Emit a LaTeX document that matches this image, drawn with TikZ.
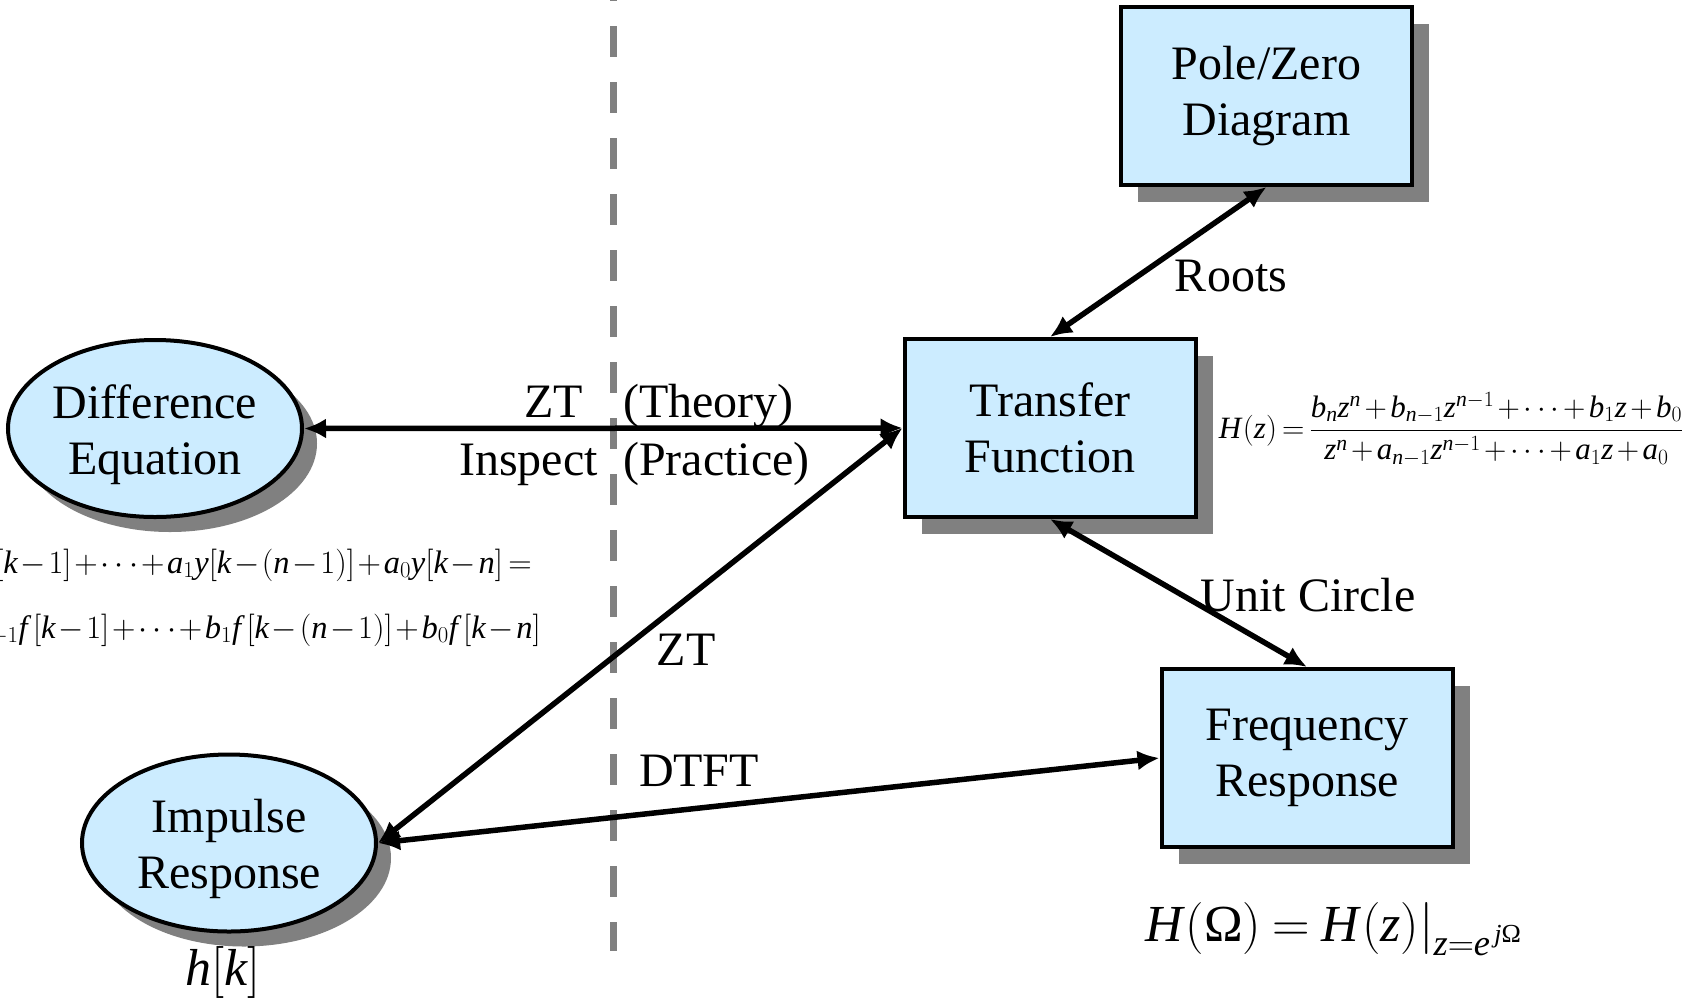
\documentclass[tikz,border=0pt]{standalone}
\usepackage{fix-cm}
\usepackage{amsmath}
\usepackage{fontspec}
\setmainfont{Liberation Serif}
\usetikzlibrary{shapes.geometric,arrows.meta,shadows}
\definecolor{boxfill}{RGB}{204,236,255}
\definecolor{shadowgray}{RGB}{128,128,128}
\newcommand{\mitv}[1]{\mathit{#1}}
\begin{document}
\begin{tikzpicture}[x=1pt,y=-1pt,
  every node/.style={font=\fontsize{48}{56}\selectfont, inner sep=0pt},
  blockbox/.style={draw=black, line width=4pt, fill=boxfill, minimum width=291pt, minimum height=178pt, align=center,
    drop shadow={shadow xshift=17pt, shadow yshift=-17pt, fill=shadowgray, opacity=1}},
  blockell/.style={ellipse, draw=black, line width=4pt, fill=boxfill, minimum width=294pt, minimum height=177pt,
    drop shadow={shadow xshift=15pt, shadow yshift=-15pt, fill=shadowgray, opacity=1}},
  elltext/.style={align=center},
  conn/.style={line width=5.5pt, {Latex[length=22pt,width=20pt]}-{Latex[length=22pt,width=20pt]}},
  divider/.style={draw=shadowgray, line width=7pt, dash pattern=on 31pt off 25pt, dash phase=30pt},
  smallmath/.style={font=\fontsize{32.5}{38}\selectfont},
]
\useasboundingbox (0,0) rectangle (1695,997);
\fill[white] (0,0) rectangle (1695,997);
\clip (0,0) rectangle (1695,997);

% divider
\coordinate (dtop) at (613,0);
\coordinate (dbot) at (613,951);
\draw[divider] (dtop) -- (dbot);

% blocks
\node[blockbox] (pz) at (1266.5,96) {Pole/Zero\\Diagram};
\node[blockbox] (tf) at (1050,428) {Transfer\\Function};
\node[blockbox] (fr) at (1307,758) {Frequency\\Response};
\node[blockell] (de) at (155,428.5) {};
\node[elltext] (detext) at (155,434.5) {Difference\\Equation};
\node[blockell] (ir) at (229,843) {};
\node[elltext] (irtext) at (229,849) {Impulse\\Response};

% connectors
\draw[conn] (de.east) -- (tf.west);
\draw[conn] (ir.east) -- (tf.west);
\draw[conn] (ir.east) -- (fr.west);
\draw[conn] (tf.north) -- (pz.south);
\draw[conn] (tf.south) -- (fr.north);

% labels
\node[anchor=base east] (lzt) at (583,417) {ZT};
\node[anchor=base west] (lth) at (623,417) {(Theory)};
\node[anchor=base east] (lin) at (598,475) {Inspect};
\node[anchor=base west] (lpr) at (623,475) {(Practice)};
\node[anchor=base] (lroots) at (1231,291) {Roots};
\node[anchor=base] (lunit) at (1308,611) {Unit Circle};
\node[anchor=base] (lzt2) at (686,665) {ZT};
\node[anchor=base] (ldtft) at (699,786) {DTFT};
\node[anchor=base, font=\fontsize{52}{60}\selectfont] (lhk) at (223,985) {$\mitv{h}[\mitv{k}]$};

% equations
\node[font=\fontsize{31}{37}\selectfont] (hz) at (1451,429) {$\medmuskip=2mu\thickmuskip=3mu\mitv{H}\mkern1mu(\mitv{z}) = \dfrac{\mitv{b}_{\mitv{n}}\mitv{z}^{\mitv{n}} + \mitv{b}_{\mitv{n}-1}\mitv{z}^{\mitv{n}-1} + \cdots + \mitv{b}_1\mitv{z} + \mitv{b}_0}{\mitv{z}^{\mitv{n}} + \mitv{a}_{\mitv{n}-1}\mitv{z}^{\mitv{n}-1} + \cdots + \mitv{a}_1\mitv{z} + \mitv{a}_0}$};
\node[smallmath, anchor=base east] (deq1) at (532,573) {$\medmuskip=1.5mu\thickmuskip=3mu\mitv{y}[\mitv{k}] + \mitv{a}_{\mitv{n}-1}\mitv{y}[\mitv{k}-1] + \cdots + \mitv{a}_1\mitv{y}[\mitv{k}-(\mitv{n}-1)] + \mitv{a}_0\mitv{y}[\mitv{k}-\mitv{n}] =$};
\node[smallmath, anchor=base east] (deq2) at (541,638) {$\medmuskip=1.5mu\thickmuskip=3mu\mitv{b}_{\mitv{n}}\mitv{f}\,[\mitv{k}] + \mitv{b}_{\mitv{n}-1}\mitv{f}\,[\mitv{k}-1] + \cdots + \mitv{b}_1\mitv{f}\,[\mitv{k}-(\mitv{n}-1)] + \mitv{b}_0\mitv{f}\,[\mitv{k}-\mitv{n}]$};
\node[anchor=base west, font=\fontsize{52}{60}\selectfont] (hom) at (1145,941) {$\thickmuskip=4mu\mitv{H}\mkern1mu(\text{Ω}) = \mitv{H}\mkern1mu(\mitv{z})|_{\raisebox{-7pt}{$\scriptstyle\mitv{z}=\mitv{e}^{\,\mitv{j}\text{Ω}}$}}$};
\end{tikzpicture}
\end{document}
